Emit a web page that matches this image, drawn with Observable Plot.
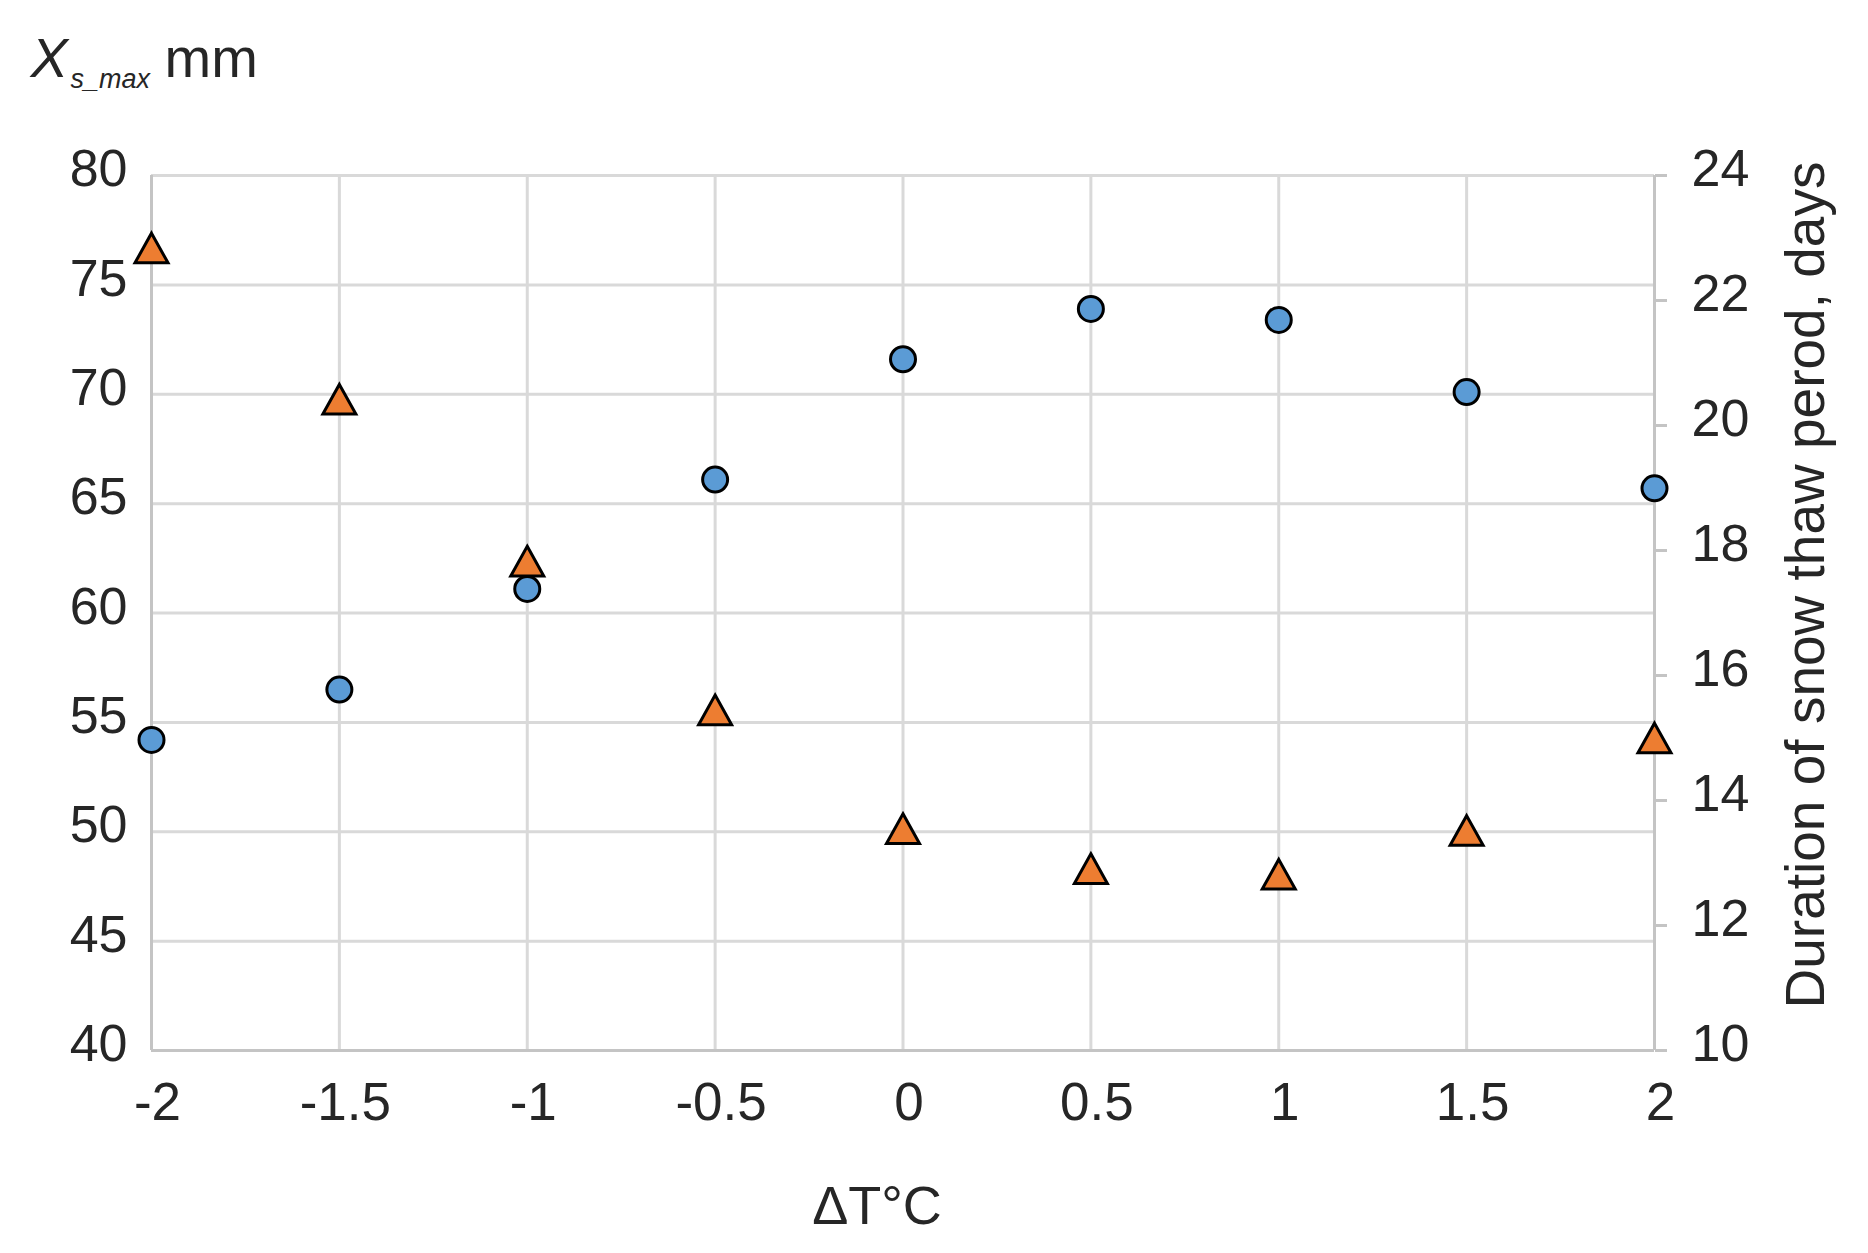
<!DOCTYPE html>
<html>
<head>
<meta charset="utf-8">
<script src="https://cdn.jsdelivr.net/npm/d3@7"></script>
<script src="https://cdn.jsdelivr.net/npm/@observablehq/plot@0.6"></script>
<style>
  html, body { margin: 0; padding: 0; background: #ffffff; }
  #chart { width: 1868px; height: 1253px; }
</style>
</head>
<body>
<div id="chart"></div>
<script>
// ---- data ----
const deltaT = [-2, -1.5, -1, -0.5, 0, 0.5, 1, 1.5, 2];
const xsMax = [54.2, 56.5, 61.1, 66.1, 71.6, 73.9, 73.4, 70.1, 65.7];       // mm, left axis
const thawDays = [22.84, 20.42, 17.83, 15.45, 13.55, 12.91, 12.82, 13.52, 15.0]; // days, right axis

const xTicks = [-2, -1.5, -1, -0.5, 0, 0.5, 1, 1.5, 2];
const leftTicks = [40, 45, 50, 55, 60, 65, 70, 75, 80];
const rightTicks = [10, 12, 14, 16, 18, 20, 22, 24];

const leftDomain = [40, 80];
const rightDomain = [10, 24];

const titleMain = "X";
const titleSub = "s_max";
const titleUnit = "mm";
const xLabel = "\u0394T\u00b0C";
const rightLabel = "Duration of snow thaw perod, days";

// map right-axis values onto the left (shared) y scale
const toLeft = d => leftDomain[0] + (d - rightDomain[0]) * (leftDomain[1] - leftDomain[0]) / (rightDomain[1] - rightDomain[0]);
const fromLeft = v => rightDomain[0] + (v - leftDomain[0]) * (rightDomain[1] - rightDomain[0]) / (leftDomain[1] - leftDomain[0]);

const rows = deltaT.map((t, i) => ({t, xs: xsMax[i], days: thawDays[i]}));

const triangle = {
  draw(context, size) {
    const r = Math.sqrt(size / Math.PI);
    context.moveTo(0, -0.9 * r);
    context.lineTo(r, 0.9 * r);
    context.lineTo(-r, 0.9 * r);
    context.closePath();
  }
};

const gridColor = "#d9d9d9";
const axisColor = "#c4c4c4";
const textColor = "#262626";
const font = "'Liberation Sans', Arial, Helvetica, sans-serif";

const chart = Plot.plot({
  width: 1868,
  height: 1253,
  marginTop: 175,
  marginBottom: 203,
  marginLeft: 151,
  marginRight: 214,
  x: {domain: [-2, 2]},
  y: {domain: leftDomain},
  style: {fontFamily: font, fontSize: "52px", color: textColor, background: "#ffffff", overflow: "visible"},
  marks: [
    Plot.gridX(xTicks, {stroke: gridColor, strokeOpacity: 1, strokeWidth: 3}),
    Plot.gridY(leftTicks, {stroke: gridColor, strokeOpacity: 1, strokeWidth: 3}),
    Plot.ruleY([leftDomain[0]], {stroke: axisColor, strokeWidth: 3}),
    Plot.ruleX([xTicks[0]], {stroke: axisColor, strokeWidth: 3}),
    Plot.ruleX([xTicks[xTicks.length - 1]], {stroke: axisColor, strokeWidth: 3}),
    Plot.axisX(xTicks, {anchor: "bottom", tickSize: 0, tickPadding: 32, dx: 6, fontSize: 53, fill: textColor, tickFormat: d => String(d), label: null}),
    Plot.axisY(leftTicks, {anchor: "left", tickSize: 0, tickPadding: 24, dy: -6, fontSize: 52, fill: textColor, tickFormat: d => String(d), label: null}),
    Plot.axisY(rightTicks.map(toLeft), {anchor: "right", tickSize: 12, stroke: axisColor, strokeWidth: 3, fill: "none", label: null}),
    Plot.axisY(rightTicks.map(toLeft), {anchor: "right", tickSize: 0, tickPadding: 37, dy: -6, fontSize: 52, fill: textColor, tickFormat: d => String(Math.round(fromLeft(d))), label: null}),
    Plot.dot(rows, {x: "t", y: "xs", r: 12.5, fill: "#5b9bd5", stroke: "#000000", strokeWidth: 3}),
    Plot.dot(rows, {x: "t", y: d => toLeft(d.days), r: 16.5, symbol: triangle, fill: "#ed7d31", stroke: "#000000", strokeWidth: 3}),
    // title (y-axis label, top-left)
    Plot.text([titleMain], {text: d => d, frameAnchor: "top-left", textAnchor: "start", lineAnchor: "bottom", dx: -121, dy: -99, fontSize: 56, fontStyle: "italic", fill: textColor}),
    Plot.text([titleSub], {text: d => d, frameAnchor: "top-left", textAnchor: "start", lineAnchor: "bottom", dx: -81, dy: -88, fontSize: 27, fontStyle: "italic", fill: textColor}),
    Plot.text([titleUnit], {text: d => d, frameAnchor: "top-left", textAnchor: "start", lineAnchor: "bottom", dx: 13, dy: -99, fontSize: 56, fill: textColor}),
    // x label
    Plot.text([xLabel], {text: d => d, frameAnchor: "bottom", textAnchor: "middle", lineAnchor: "bottom", dx: -26, dy: 173, fontSize: 54, fill: textColor}),
    // right label
    Plot.text([rightLabel], {text: d => d, frameAnchor: "right", textAnchor: "middle", lineAnchor: "bottom", rotate: -90, dx: 169, dy: -28, fontSize: 55, fill: textColor})
  ]
});

document.getElementById("chart").appendChild(chart);
</script>
</body>
</html>
